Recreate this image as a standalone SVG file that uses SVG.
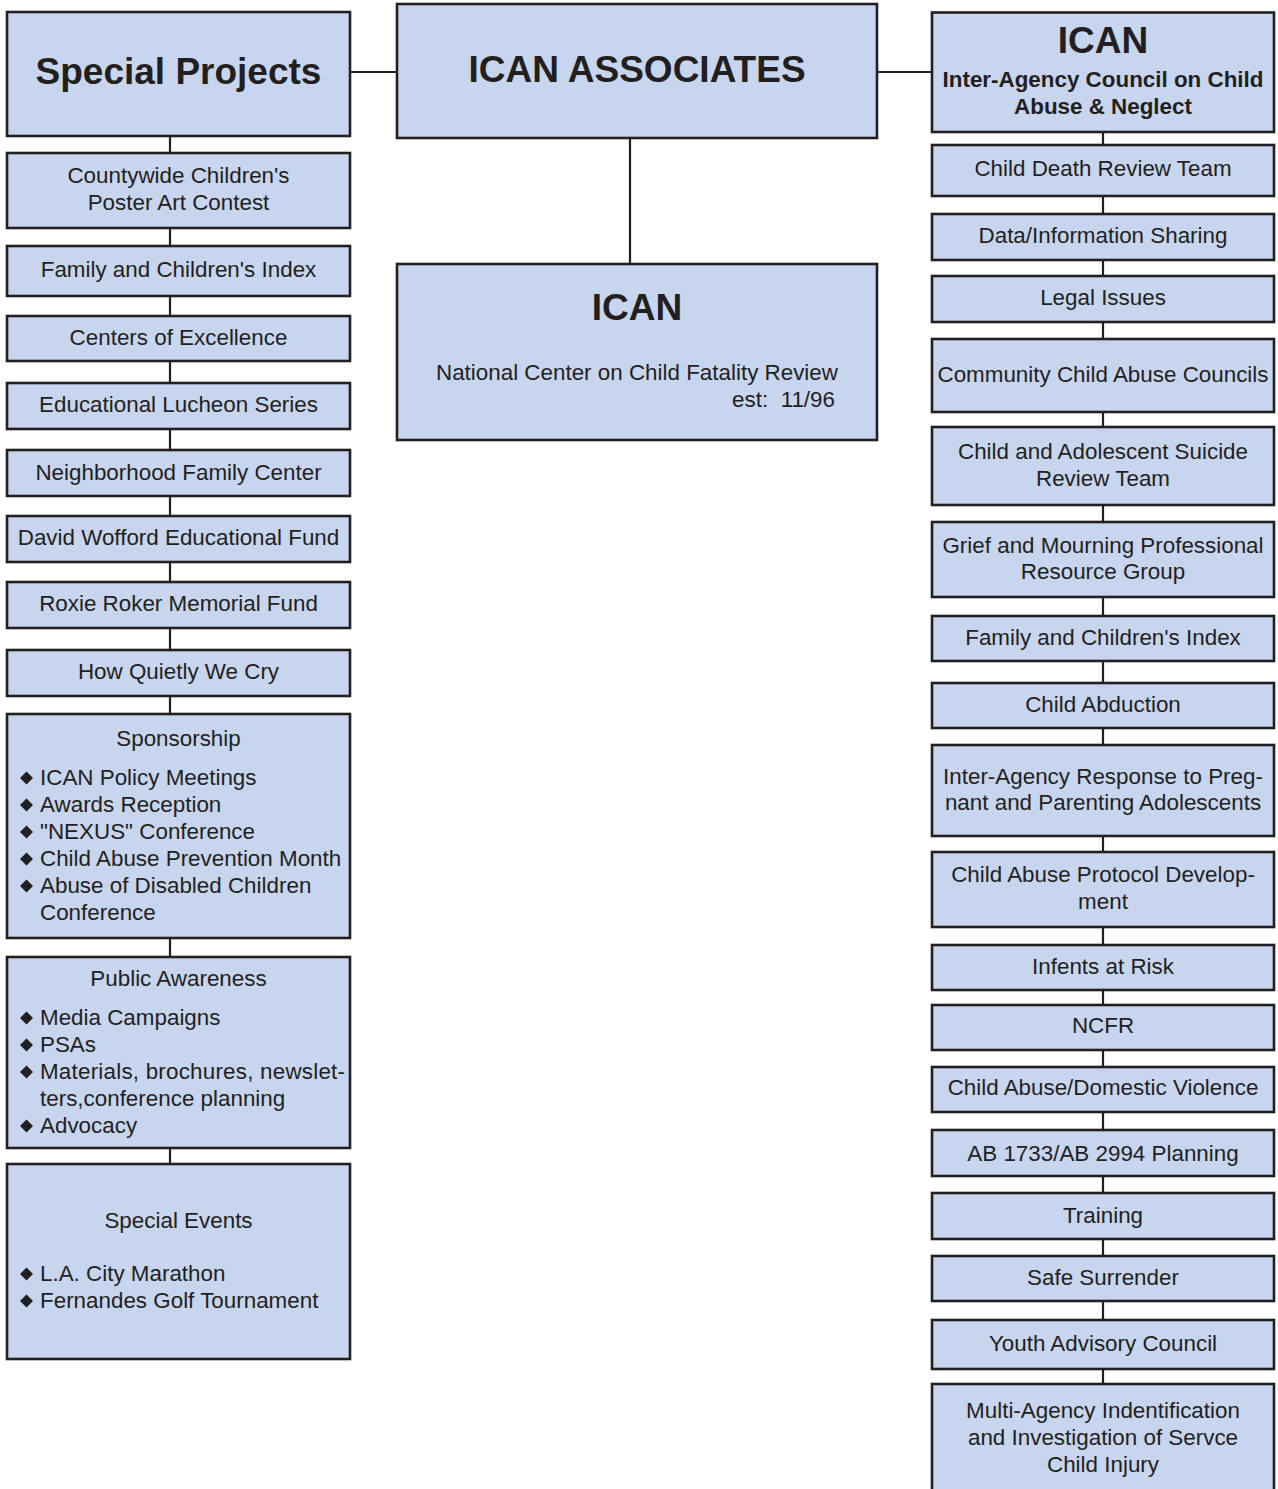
<svg xmlns="http://www.w3.org/2000/svg" width="1278" height="1489" viewBox="0 0 1278 1489">
<style>
.b{fill:#C7D5EE;stroke:#231F20;stroke-width:2.6}
.c{stroke:#231F20;stroke-width:2.2;fill:none}
text{font-family:"Liberation Sans",Arial,sans-serif;fill:#231F20;font-size:22.4px}
.m{text-anchor:middle}
.h{font-weight:bold;font-size:37px}
.s{font-weight:bold;font-size:22.4px}
.d{fill:#231F20}
</style>
<defs>
<path id="dm" d="M0,-6.5 L6.5,0 L0,6.5 L-6.5,0 Z"/>
</defs>
<rect width="1278" height="1489" fill="#fff"/>
<g id="connectors">
<line class="c" x1="170" y1="136" x2="170" y2="1164"/>
<line class="c" x1="1103" y1="132" x2="1103" y2="1384"/>
<line class="c" x1="350" y1="72" x2="397" y2="72"/>
<line class="c" x1="877" y1="72" x2="932" y2="72"/>
<line class="c" x1="630" y1="138" x2="630" y2="264"/>
</g>
<g id="ican-associates"><rect class="b" x="397" y="4" width="480" height="134"/><text class="m h" x="637" y="82">ICAN ASSOCIATES</text></g>
<g id="ican-ncfr"><rect class="b" x="397" y="264" width="480" height="176"/><text class="m h" x="637" y="320">ICAN</text><text class="m" x="637" y="380">National Center on Child Fatality Review</text><text x="835" y="407" text-anchor="end">est:&#160; 11/96</text></g>
<g id="special-projects"><rect class="b" x="7" y="12" width="343" height="124"/><text class="m h" x="178.5" y="84">Special Projects</text></g>
<g id="poster"><rect class="b" x="7" y="153" width="343" height="75"/><text class="m" x="178.5" y="183">Countywide Children's</text><text class="m" x="178.5" y="210">Poster Art Contest</text></g>
<g id="fci-left"><rect class="b" x="7" y="246" width="343" height="50"/><text class="m" x="178.5" y="277">Family and Children's Index</text></g>
<g id="coe"><rect class="b" x="7" y="316" width="343" height="45"/><text class="m" x="178.5" y="345">Centers of Excellence</text></g>
<g id="lucheon"><rect class="b" x="7" y="383" width="343" height="46"/><text class="m" x="178.5" y="412">Educational Lucheon Series</text></g>
<g id="nfc"><rect class="b" x="7" y="450" width="343" height="46"/><text class="m" x="178.5" y="480">Neighborhood Family Center</text></g>
<g id="wofford"><rect class="b" x="7" y="516" width="343" height="46"/><text class="m" x="178.5" y="545">David Wofford Educational Fund</text></g>
<g id="roker"><rect class="b" x="7" y="582" width="343" height="46"/><text class="m" x="178.5" y="611">Roxie Roker Memorial Fund</text></g>
<g id="quietly"><rect class="b" x="7" y="650" width="343" height="46"/><text class="m" x="178.5" y="679">How Quietly We Cry</text></g>
<g id="sponsorship"><rect class="b" x="7" y="714" width="343" height="224"/><text class="m" x="178.5" y="746">Sponsorship</text>
<use href="#dm" class="d" x="26.5" y="778"/><text x="40" y="785">ICAN Policy Meetings</text>
<use href="#dm" class="d" x="26.5" y="805"/><text x="40" y="812">Awards Reception</text>
<use href="#dm" class="d" x="26.5" y="832"/><text x="40" y="839">"NEXUS" Conference</text>
<use href="#dm" class="d" x="26.5" y="859"/><text x="40" y="866">Child Abuse Prevention Month</text>
<use href="#dm" class="d" x="26.5" y="886"/><text x="40" y="893">Abuse of Disabled Children</text>
<text x="40" y="920">Conference</text></g>
<g id="public-awareness"><rect class="b" x="7" y="957" width="343" height="191"/><text class="m" x="178.5" y="986">Public Awareness</text>
<use href="#dm" class="d" x="26.5" y="1018"/><text x="40" y="1025">Media Campaigns</text>
<use href="#dm" class="d" x="26.5" y="1045"/><text x="40" y="1052">PSAs</text>
<use href="#dm" class="d" x="26.5" y="1072"/><text x="40" y="1079" textLength="305" lengthAdjust="spacing">Materials, brochures, newslet-</text>
<text x="40" y="1106">ters,conference planning</text>
<use href="#dm" class="d" x="26.5" y="1126"/><text x="40" y="1133">Advocacy</text></g>
<g id="special-events"><rect class="b" x="7" y="1164" width="343" height="195"/><text class="m" x="178.5" y="1228">Special Events</text>
<use href="#dm" class="d" x="26.5" y="1274"/><text x="40" y="1281">L.A. City Marathon</text>
<use href="#dm" class="d" x="26.5" y="1301"/><text x="40" y="1308">Fernandes Golf Tournament</text></g>
<g id="ican-council"><rect class="b" x="932" y="12.5" width="342" height="119.5"/><text class="m h" x="1103" y="53">ICAN</text><text class="m s" x="1103" y="87">Inter-Agency Council on Child</text><text class="m s" x="1103" y="114">Abuse &amp; Neglect</text></g>
<g id="cdrt"><rect class="b" x="932" y="145" width="342" height="51"/><text class="m" x="1103" y="176">Child Death Review Team</text></g>
<g id="data"><rect class="b" x="932" y="214" width="342" height="46"/><text class="m" x="1103" y="243">Data/Information Sharing</text></g>
<g id="legal"><rect class="b" x="932" y="276" width="342" height="46"/><text class="m" x="1103" y="305">Legal Issues</text></g>
<g id="ccac"><rect class="b" x="932" y="339" width="342" height="73"/><text class="m" x="1103" y="382">Community Child Abuse Councils</text></g>
<g id="suicide"><rect class="b" x="932" y="427" width="342" height="78"/><text class="m" x="1103" y="459">Child and Adolescent Suicide</text><text class="m" x="1103" y="486">Review Team</text></g>
<g id="grief"><rect class="b" x="932" y="522" width="342" height="75"/><text class="m" x="1103" y="553">Grief and Mourning Professional</text><text class="m" x="1103" y="579">Resource Group</text></g>
<g id="fci-right"><rect class="b" x="932" y="616" width="342" height="45"/><text class="m" x="1103" y="645">Family and Children's Index</text></g>
<g id="abduction"><rect class="b" x="932" y="683" width="342" height="45"/><text class="m" x="1103" y="712">Child Abduction</text></g>
<g id="iarppa"><rect class="b" x="932" y="745" width="342" height="91"/><text class="m" x="1103" y="784">Inter-Agency Response to Preg-</text><text class="m" x="1103" y="810">nant and Parenting Adolescents</text></g>
<g id="protocol"><rect class="b" x="932" y="852" width="342" height="75"/><text class="m" x="1103" y="882">Child Abuse Protocol Develop-</text><text class="m" x="1103" y="909">ment</text></g>
<g id="infants"><rect class="b" x="932" y="945" width="342" height="45"/><text class="m" x="1103" y="974">Infents at Risk</text></g>
<g id="ncfr"><rect class="b" x="932" y="1005" width="342" height="45"/><text class="m" x="1103" y="1033">NCFR</text></g>
<g id="dv"><rect class="b" x="932" y="1067" width="342" height="45"/><text class="m" x="1103" y="1095">Child Abuse/Domestic Violence</text></g>
<g id="ab"><rect class="b" x="932" y="1130" width="342" height="46"/><text class="m" x="1103" y="1161">AB 1733/AB 2994 Planning</text></g>
<g id="training"><rect class="b" x="932" y="1193" width="342" height="46"/><text class="m" x="1103" y="1223">Training</text></g>
<g id="safe"><rect class="b" x="932" y="1256" width="342" height="45"/><text class="m" x="1103" y="1285">Safe Surrender</text></g>
<g id="youth"><rect class="b" x="932" y="1320" width="342" height="49"/><text class="m" x="1103" y="1351">Youth Advisory Council</text></g>
<g id="multi"><rect class="b" x="932" y="1384" width="342" height="115"/><text class="m" x="1103" y="1418">Multi-Agency Indentification</text><text class="m" x="1103" y="1445">and Investigation of Servce</text><text class="m" x="1103" y="1472">Child Injury</text></g>
</svg>
